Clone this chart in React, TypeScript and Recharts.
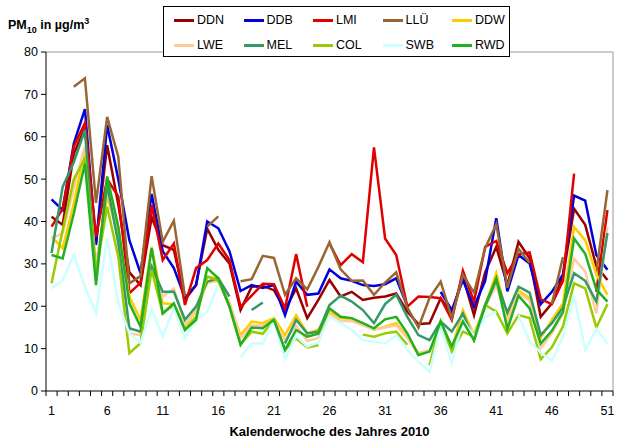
import { LineChart, Line, XAxis, YAxis, ReferenceLine } from "recharts";

// Kalenderwochen 1..51
const weeks = Array.from({ length: 51 }, (_, i) => i + 1);
const weekLabels = [1, 6, 11, 16, 21, 26, 31, 36, 41, 46, 51];
const yTicks = [0, 10, 20, 30, 40, 50, 60, 70, 80];

// Wochenmittel PM10 in µg/m³ (null = keine Daten)
const DDN = [41.1, 39.2, 56, 62, 35, 58, 44, 28, 25, 41, 34.4, 33.3, 21.5, 25, 38.3, 33.3, 30.1, 19.1, 24.6, 24.8, 23.8, 19.1, 24.2, 17.2, 21.5, 26.2, 22.3, 23.4, 21.5, 22, 22.3, 23, 18.7, 15.8, 16, 21.9, 18.3, 27, 17.9, 28, 34, 25, 35.2, 31.3, 17.5, 20.7, 27, 43, 39.2, 29.5, 26.2];
const DDB = [45.2, 42.7, 58.4, 66.5, 34.5, 62.8, 50, 35.6, 27.8, 46.5, 33, 29, 22, 25, 40, 38.4, 33, 23.6, 25, 24.3, 25, 17.9, 25.8, 22.7, 23, 28.7, 26.6, 26, 25, 24.8, 25.2, 26.6, 20, null, null, 23.4, 19.1, 26.2, 19.9, 26, 40.8, 23.5, 32.1, 30.1, 20.5, 23.4, 27.5, 46.1, 44.9, 32.1, 28.6];
const LMI = [38.8, 43, 57.7, 63.2, 36.4, 50, 45.9, 23.1, 25.5, 43.9, 30.9, 34.8, 20.3, 29, 30.9, 34.8, 30.9, 19.9, 22.5, 25.3, 25.2, 19.5, 32.3, 19.9, null, 34.8, 29.7, 32.3, 30.4, 57.5, 36, 32.1, 19.9, 22.3, 22.2, 21.9, 16.8, 28.4, 21.1, 34, 35.4, 27.8, 32.3, 32.7, 21.7, 20.5, 26, 51.3, null, 23.4, 42.7];
const LLU = [null, null, 71.8, 73.8, 44.4, 64.7, 55.3, 25.4, 27.1, 50.7, 35.2, 40.2, 22.3, null, 38.8, 41.2, null, 25.9, 26.4, 31.9, 31.4, 22.7, 26.6, 24, 29.3, 35.1, 28.7, 26, 26.1, 22.7, 25.6, 28, 19.7, 15, 22, 25.8, 17.2, 27.4, 23.2, 33.7, 39.4, 24.4, 33.6, 30.2, null, 20.5, 31.6, null, null, 28, 47.4];
const DDW = [36.4, 33.7, 44.3, 56.9, 29, 46, 37, 22.3, 16.8, 34, 20.7, 20.5, 15, 19, 27, 26.5, 20.5, 13.2, 16.4, 16, 17.2, 13.2, 17.9, 13.6, 14.5, 18.7, 17.2, 17, 15.7, 14.4, 15.2, 16, 12.8, 8.5, 9.5, 14.8, 10, 19.1, 13.2, 20, 27.8, 17.2, 23.7, 21.8, 12.6, 16.8, 20.7, 38.7, 35.6, 27.5, 22.7];
const LWE = [36, 37.2, 48, 57.7, 30, 47, 38, 13.6, 13.2, 30, 22.3, 24.2, 15.6, 19, 25.5, 26, 21, 12.4, 15.6, 15.4, 16.5, 12, 15.5, 11.8, 12.5, 18.3, 16.5, 16.5, 15.5, 14.5, 15, 15.5, 12.5, 9, 9.7, 14.4, 10, 17.2, 13.5, 20, 25, 16.4, 23.2, 21.3, 10.1, 13.6, 18.3, 31.2, 28.2, 18.3, 38.7];
const MEL = [32.6, 48.2, 54, 61.6, 27, 48.6, 35, 14.8, 14, 29.3, 23.4, 23.4, 16.8, 19.9, 25.8, 26.6, 22.3, null, 19.1, 20.9, null, 11.2, 16.8, 13.6, 14, 20.3, 22.5, 21.1, 19.1, 16, 20.5, 22.7, 17.5, 13.2, 12, 16.4, 14, 18.3, 12, 20, 26.2, 18.5, 24.6, 23.2, 13.2, 16, 19.7, 27.8, 26, 21.1, 37.3];
const COL = [25.4, 38, 50, 54.9, 28, 43.5, 31.7, 8.9, 11.3, 28.6, 18.3, 20.3, 14.4, 17.5, 27, 26, 20, 11, 14, 13.5, 16.8, 9.7, 12.4, 10.3, 10.8, null, null, null, 13.3, 12.8, 13.6, 14, 10.9, null, 6.1, 16.4, 9.3, 14, 12.8, 20.3, 18.7, 13.6, 17.9, 17.2, 7.5, 10.3, 15.2, 25.4, 24.2, 15, 20.5];
const SWB = [24.2, 26.2, 32.1, 24.6, 18.3, 36, 20.7, 13.6, 11.3, 19.3, 12.8, 19.7, 12.4, 16.8, 18.7, 25, null, 7.9, 11.2, 11.2, 16.8, 7.5, 13, 10.5, 11.5, 17.5, 16, 14.4, 12, 11.6, 11.2, 13.2, 9.7, 6.9, 4.6, 15.2, 6.5, 16.8, 12.8, 17.5, 18.7, null, 18, 11.6, 9.1, 7.1, 12.8, 22.5, 9.7, 14.6, 11.2];
const RWD = [32.1, 31.3, 41.9, 53.7, 25, 50.6, 38.8, 20.7, 15.2, 33.7, 18.3, 20.7, 14.4, 16.8, 29, 26.6, 19.9, 10.9, 15, 14.8, 16.8, 9.7, 14.4, 12.8, 13.5, 19.5, 17.5, 17.2, 16, 14.8, 16.9, 17.5, 13.6, 8.5, 9.3, 16.4, 10.5, 16.4, 12, 20.3, 26.6, 14.6, 22.5, 19.5, 11.2, 14.2, 18.7, 36, 32.4, 24, 21.1];

const series = [
  { key: "DDN", color: "#990000", values: DDN },
  { key: "DDB", color: "#0000DD", values: DDB },
  { key: "LMI", color: "#E00000", values: LMI },
  { key: "LLÜ", color: "#996633", values: LLU },
  { key: "DDW", color: "#FFCC00", values: DDW },
  { key: "LWE", color: "#FFCC99", values: LWE },
  { key: "MEL", color: "#339966", values: MEL },
  { key: "COL", color: "#99CC00", values: COL },
  { key: "SWB", color: "#CCFFFF", values: SWB },
  { key: "RWD", color: "#22B022", values: RWD },
];

const data = weeks.map((w, i) => {
  const row: Record<string, number | null> = { week: w };
  series.forEach((s) => {
    row[s.key] = s.values[i];
  });
  return row;
});

// tick marks between the weeks, labels on every 5th week
const xTicks = [...weeks.map((w) => w - 0.5), 51.5, ...weekLabels].sort((a, b) => a - b);

const font = "'Liberation Sans', Arial, sans-serif";

function WeekTick({ x, y, payload }: any) {
  const v = payload.value;
  if (Number.isInteger(v)) {
    return (
      <text x={x} y={y + 24} textAnchor="middle" fontSize={12.5} fill="#000" fontFamily={font}>
        {v}
      </text>
    );
  }
  return <line x1={x} x2={x} y1={y} y2={y + 5} stroke="#000" />;
}

export default function App() {
  return (
    <div style={{ position: "absolute", left: 0, top: 0, width: 618, height: 446, fontFamily: font, background: "#fff" }}>
      <LineChart width={618} height={446} data={data} margin={{ top: 52, right: 5, bottom: 25, left: 0 }}>
        <XAxis
          type="number"
          dataKey="week"
          domain={[0.5, 51.5]}
          ticks={xTicks}
          interval={0}
          tick={<WeekTick />}
          tickLine={false}
          tickSize={0}
          tickMargin={0}
          height={30}
          axisLine={{ stroke: "#000" }}
        />
        <YAxis
          domain={[0, 80]}
          ticks={yTicks}
          interval={0}
          width={46}
          tickSize={5}
          tickMargin={3}
          axisLine={{ stroke: "#000" }}
          tickLine={{ stroke: "#000" }}
          tick={{ fontSize: 12.5, fill: "#000", fontFamily: font }}
        />
        <ReferenceLine y={80} stroke="#999" />
        <ReferenceLine x={51.5} stroke="#999" />
        {series.map((s) => (
          <Line
            key={s.key}
            dataKey={s.key}
            stroke={s.color}
            strokeWidth={2.5}
            dot={false}
            activeDot={false}
            type="linear"
            connectNulls={false}
            isAnimationActive={false}
          />
        ))}
      </LineChart>

      <div style={{ position: "absolute", left: 8, top: 16, fontWeight: "bold", fontSize: 12.5 }}>
        PM<sub style={{ fontSize: 9 }}>10</sub> in µg/m<sup style={{ fontSize: 9 }}>3</sup>
      </div>

      <div
        style={{
          position: "absolute",
          left: 163,
          top: 6,
          width: 345,
          height: 49,
          border: "1px solid #000",
          background: "#fff",
        }}
      >
        {series.map((s, i) => (
          <div
            key={s.key}
            style={{
              position: "absolute",
              left: 10 + (i % 5) * 69.5,
              top: i < 5 ? 5 : 30,
              height: 16,
              display: "flex",
              alignItems: "center",
              fontSize: 12.5,
            }}
          >
            <span style={{ display: "inline-block", width: 20, height: 3, background: s.color, marginRight: 3 }} />
            {s.key}
          </div>
        ))}
      </div>

      <div
        style={{
          position: "absolute",
          left: 46,
          width: 567,
          top: 424,
          textAlign: "center",
          fontWeight: "bold",
          fontSize: 13,
        }}
      >
        Kalenderwoche des Jahres 2010
      </div>
    </div>
  );
}
